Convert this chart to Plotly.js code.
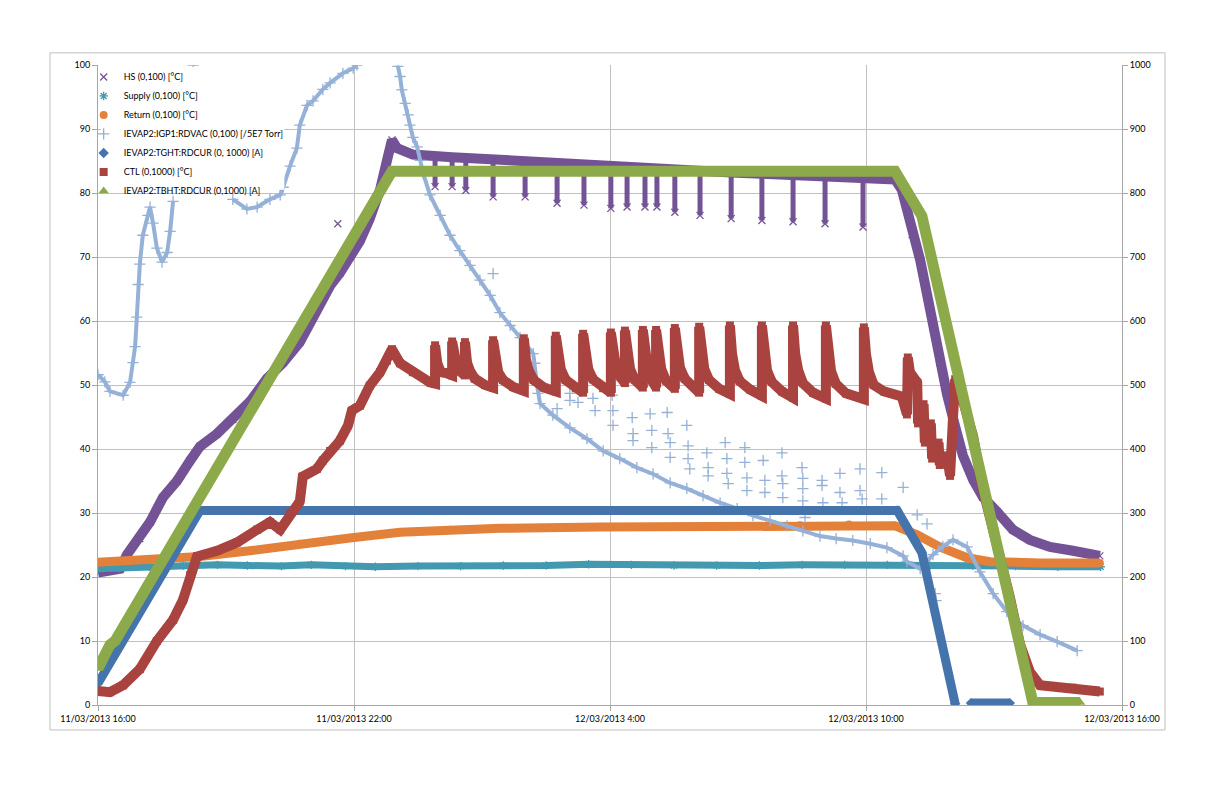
<!DOCTYPE html>
<html><head><meta charset="utf-8">
<script src="https://cdn.plot.ly/plotly-3.0.1.min.js"></script>
<style>html,body{margin:0;padding:0;background:#fff}#chart{width:1224px;height:792px}</style>
</head><body><div id="chart"></div>
<script>
// Time axis: hours since 11/03/2013 16:00
const xTickVals = [0, 6, 12, 18, 24];
const xTickText = ['11/03/2013 16:00', '11/03/2013 22:00', '12/03/2013 4:00', '12/03/2013 10:00', '12/03/2013 16:00'];

const seriesNames = [
  'HS (0,100) [°C]',
  'Supply (0,100) [°C]',
  'Return (0,100) [°C]',
  'IEVAP2:IGP1:RDVAC (0,100) [/5E7 Torr]',
  'IEVAP2:TGHT:RDCUR (0, 1000) [A]',
  'CTL (0,1000) [°C]',
  'IEVAP2:TBHT:RDCUR (0,1000) [A]'
];

// HS (left axis) main band
const hsT = [0, 0.28, 0.52, 0.68, 0.98, 1.22, 1.52, 1.85, 2.16, 2.39, 2.79, 3.16, 3.56, 3.96, 4.34, 4.73, 5.13, 5.44, 5.67, 5.90, 6.14, 6.37, 6.61, 6.77, 6.89, 7.01, 7.38,
  8.30, 9.26, 10.01, 10.76, 11.39, 12.02, 12.82, 13.52, 14.11, 14.84, 15.56, 16.29, 17.04, 17.93,
  18.68, 18.84, 18.96, 19.08, 19.27, 19.45, 19.57, 19.73, 19.90, 20.09, 20.27, 20.51, 20.74, 21.07, 21.44, 21.84, 22.31, 22.85, 23.48];
const hsV = [20.7, 21.0, 21.3, 23.5, 26.0, 28.6, 32.4, 35.0, 38.2, 40.4, 42.4, 44.6, 47.4, 51.0, 53.5, 56.7, 61.8, 65.5, 67.5, 70.0, 72.5, 76.0, 80.5, 85.0, 88.3, 87.0, 86.0,
  85.6, 85.2, 84.9, 84.6, 84.4, 84.1, 83.9, 83.6, 83.4, 83.2, 83.0, 82.8, 82.6, 82.3,
  82.1, 80.5, 77.5, 73.5, 69.5, 63.5, 59.0, 53.5, 48.5, 43.5, 39.0, 35.2, 32.5, 30.2, 27.4, 25.8, 24.7, 24.1, 23.3];
// HS short dips (top = band level, bottom = lowest reading)
const hsDipT   = [7.90, 8.30, 8.62, 9.26, 10.01, 10.76, 11.39, 12.02, 12.40, 12.82, 13.10, 13.52, 14.11, 14.84, 15.56, 16.29, 17.04, 17.93];
const hsDipTop = [86.3, 86.2, 86.1, 85.8, 85.5, 85.2, 85.0, 84.7, 84.6, 84.5, 84.4, 84.2, 84.0, 83.8, 83.6, 83.4, 83.2, 82.9];
const hsDipBot = [81.0, 81.0, 80.4, 79.4, 79.4, 78.4, 78.1, 77.6, 77.8, 77.8, 77.8, 77.0, 76.5, 76.0, 75.7, 75.5, 75.2, 74.7];
const hsOutT = [5.62];
const hsOutV = [75.2];

// Supply (left axis)
const supplyT = [0, 0.5, 1.2, 2.0, 2.8, 3.5, 4.3, 5.0, 5.8, 6.5, 7.5, 8.5, 9.5, 10.5, 11.5, 12.5, 13.5, 14.5, 15.5, 16.5, 17.5, 18.5, 19.5, 20.5, 21.5, 22.5, 23.5];
const supplyV = [21.3, 21.4, 21.6, 21.8, 21.9, 21.8, 21.7, 21.9, 21.7, 21.6, 21.7, 21.7, 21.8, 21.8, 22.0, 21.9, 21.8, 21.8, 21.8, 21.9, 21.9, 21.9, 21.8, 21.8, 21.7, 21.6, 21.6];

// Return (left axis)
const returnT = [0, 1.22, 2.39, 3.56, 4.73, 5.90, 7.08, 8.25, 9.42, 11.77, 14.11, 16.45, 17.6, 18.68, 19.20, 19.73, 20.37, 20.91, 22.08, 23.48];
const returnV = [22.3, 22.6, 23.2, 24.1, 25.2, 26.1, 27.0, 27.4, 27.6, 27.8, 27.9, 28.1, 28.2, 28.0, 26.6, 24.7, 23.0, 22.4, 22.2, 22.2];

// IEVAP2:IGP1:RDVAC (left axis) main trail, readings above 100 are off scale
const vacT = [0, 0.16, 0.28, 0.59, 0.75, 0.82, 0.87, 0.91, 0.94, 0.98, 1.05, 1.17, 1.22, 1.29, 1.38, 1.50, 1.62, 1.69, 1.76, null,
  3.16, 3.49, 3.73, 4.03, 4.27, 4.34, 4.50, 4.66, 4.73, 4.90, 5.04, 5.27, 5.44, 5.74, 5.98, 6.07, null,
  7.03, 7.08, 7.12, 7.20, 7.27, 7.31, 7.38, 7.48, 7.55, 7.62, 7.78, 8.02, 8.25, 8.48, 8.72, 8.95, 9.19, 9.42, 9.66, 9.89,
  10.20, 10.29, 10.36, 10.66, 11.06, 11.46, 11.84, 12.23, 12.63, 13.01, 13.41, 13.80, 14.18, 14.58, 14.98, 15.35, 15.75, 16.15,
  16.52, 16.92, 17.30, 17.69, 18.10, 18.49, 18.87, 18.96, 19.27, 19.57, 19.80, 20.04, 20.37, 20.67, 20.98, 21.30, 21.68, 22.08, 22.48, 22.95];
const vacV = [51.6, 50.5, 49.0, 48.4, 50.4, 53.5, 56.0, 60.6, 65.7, 68.9, 73.4, 76.5, 77.8, 75.3, 71.4, 69.2, 70.7, 74.0, 78.7, null,
  79.0, 77.5, 77.8, 79.0, 79.7, 80.9, 84.2, 87.0, 90.6, 93.7, 94.4, 96.2, 97.2, 98.7, 99.5, 100.0, null,
  99.8, 98.2, 96.1, 94.0, 92.2, 90.6, 88.7, 87.2, 85.1, 83.1, 79.7, 76.5, 73.4, 71.0, 68.7, 66.4, 64.0, 61.3, 59.3, 57.4,
  54.9, 50.0, 47.1, 45.3, 43.3, 41.6, 39.7, 38.5, 37.1, 36.1, 34.7, 33.8, 32.7, 31.6, 30.7, 29.6, 28.8, 28.0,
  27.2, 26.4, 26.0, 25.7, 25.2, 24.6, 23.3, 22.4, 21.3, 23.5, 24.8, 25.8, 24.7, 20.8, 17.4, 14.6, 12.4, 11.0, 9.9, 8.5];
// RDVAC isolated readings
const vacOutT = [2.23, 9.26, 10.24, 10.31, 10.76, 11.06, 11.06, 11.25, 11.60, 11.65, 12.05, 12.07, 12.07, 12.52, 12.54, 12.54, 12.94, 12.98, 12.98,
  13.34, 13.36, 13.41, 13.41, 13.80, 13.83, 13.83, 13.87, 14.27, 14.30, 14.30, 14.70, 14.74, 14.74, 14.77, 15.16, 15.16, 15.21, 15.21,
  15.59, 15.63, 15.63, 16.03, 16.03, 16.05, 16.05, 16.50, 16.52, 16.52, 16.52, 16.57, 16.97, 16.97, 16.99, 17.39, 17.39, 17.44,
  17.86, 17.86, 17.91, 18.37, 18.37, 18.87, 19.20, 19.43, 19.62, 19.64];
const vacOutV = [100.0, 67.4, 53.4, 48.7, 46.3, 48.7, 47.6, 47.3, 47.9, 46.0, 48.4, 46.0, 43.7, 44.9, 42.4, 41.3, 45.5, 42.9, 40.2,
  45.7, 42.4, 41.0, 38.7, 43.7, 40.5, 38.5, 36.9, 39.4, 37.1, 35.8, 41.0, 38.5, 36.2, 34.6, 40.2, 37.9, 35.5, 33.5,
  38.2, 35.1, 33.2, 39.4, 35.8, 34.6, 32.4, 37.1, 35.4, 33.8, 31.9, 29.3, 35.1, 34.3, 31.6, 36.2, 33.2, 31.6,
  36.9, 33.5, 32.2, 36.3, 32.2, 34.0, 29.7, 28.3, 17.4, 16.3];

// IEVAP2:TGHT:RDCUR (right axis)
const tghtT = [0, 2.39, 18.73, 19.31, 20.09, null, 20.46, 21.37];
const tghtV = [34, 304, 304, 238, 2, null, 3, 3];

// CTL (right axis)
const ctlT = [0, 0.28, 0.59, 0.98, 1.38, 1.76, 1.99, 2.16, 2.32, 2.79, 3.26, 3.73, 4.03, 4.27, 4.50, 4.73, 4.80, 5.13, 5.27, 5.44, 5.67, 5.86, 5.95, 6.14, 6.37, 6.61, 6.77, 6.89, 7.08, 7.38, 7.78, 7.90,
  7.90, 7.95, 8.02, 8.13, 8.30,
  8.30, 8.35, 8.42, 8.60,
  8.60, 8.65, 8.72, 8.83, 9.07, 9.26,
  9.26, 9.31, 9.38, 9.49, 9.73, 9.98,
  9.98, 10.03, 10.10, 10.21, 10.45, 10.73,
  10.73, 10.78, 10.85, 10.96, 11.20, 11.37,
  11.37, 11.42, 11.49, 11.60, 11.84, 12.02,
  12.02, 12.07, 12.14, 12.25, 12.35,
  12.35, 12.40, 12.47, 12.58, 12.77,
  12.77, 12.82, 12.89, 13.00, 13.08,
  13.08, 13.13, 13.20, 13.31, 13.52,
  13.52, 13.57, 13.64, 13.75, 13.99, 14.09,
  14.09, 14.14, 14.21, 14.32, 14.56, 14.81,
  14.81, 14.86, 14.93, 15.04, 15.28, 15.56,
  15.56, 15.61, 15.68, 15.79, 16.03, 16.29,
  16.29, 16.34, 16.41, 16.52, 16.76, 17.06,
  17.06, 17.11, 17.18, 17.29, 17.53, 17.95,
  17.95, 18.00, 18.07, 18.18, 18.42, 18.84, 18.96,
  18.98, 19.03, 19.20, 19.22, 19.35, 19.38, 19.52, 19.55, 19.70, 19.73, 19.90, 19.97,
  20.04, 20.09, 20.27, 20.51, 20.74, 21.07, 21.37, 21.61, 21.84, 22.08, 22.85, 23.48];
const ctlV = [22, 20, 31, 56, 100, 133, 164, 203, 232, 241, 254, 274, 286, 274, 299, 318, 357, 369, 382, 397, 413, 437, 460, 468, 499, 520, 538, 556, 534, 520, 504, 502,
  562, 535, 522, 518, 515,
  568, 540, 525, 515,
  567, 535, 522, 510, 500, 496,
  570, 535, 520, 508, 497, 491,
  573, 540, 522, 508, 496, 490,
  577, 543, 524, 508, 495, 488,
  580, 545, 525, 509, 495, 488,
  582, 550, 528, 512, 503,
  585, 550, 525, 508, 496,
  586, 550, 522, 505, 496,
  586, 550, 525, 507, 494,
  589, 550, 527, 510, 496, 488,
  591, 550, 525, 508, 494, 486,
  593, 549, 523, 506, 493, 483,
  593, 549, 523, 505, 490, 480,
  593, 549, 523, 503, 488, 479,
  593, 549, 522, 502, 487, 478,
  590, 548, 520, 500, 490, 482, 454,
  543, 520, 504, 440, 470, 410, 440, 385, 410, 375, 390, 358,
  450, 509, 476, 420, 337, 252, 169, 95, 52, 31, 27, 21];

// IEVAP2:TBHT:RDCUR (right axis)
const tbhtT = [0, 0.28, 0.40, 6.89, 18.68, 19.31, 21.91, 23.02];
const tbhtV = [57, 94, 100, 834, 834, 764, 4, 4];

const FONT = 'Lato, "Open Sans", sans-serif';
const C = {
  hs: '#735395', supply: '#4299B0', ret: '#E3813A', vac: '#95B1D7',
  tght: '#4574AC', ctl: '#A9433F', tbht: '#8DAA4B'
};

function band(x, y, color, width, yaxis) {
  return {type: 'scatter', mode: 'lines', x: x, y: y, yaxis: yaxis,
    line: {color: color, width: width}, connectgaps: false, showlegend: false, hoverinfo: 'skip'};
}
function marks(name, x, y, symbol, size, color, yaxis, open) {
  return {type: 'scatter', mode: 'markers', name: name, x: x, y: y, yaxis: yaxis,
    marker: {symbol: symbol, size: size, color: color, line: {color: color, width: open ? 1.3 : 0}},
    hoverinfo: 'skip'};
}

// dips as vertical segments
const dipX = [], dipY = [];
hsDipT.forEach(function (t, i) { dipX.push(t, t, null); dipY.push(hsDipTop[i], hsDipBot[i], null); });

const data = [
  band(hsT, hsV, C.hs, 10, 'y'),
  band(dipX, dipY, C.hs, 5, 'y'),
  marks(seriesNames[0], hsT.concat(hsDipT, hsOutT), hsV.concat(hsDipBot, hsOutV), 'x-thin-open', 7, C.hs, 'y', true),
  band(supplyT, supplyV, C.supply, 7, 'y'),
  marks(seriesNames[1], supplyT, supplyV, 'asterisk-open', 7, C.supply, 'y', true),
  band(returnT, returnV, C.ret, 9, 'y'),
  marks(seriesNames[2], returnT, returnV, 'circle', 8, C.ret, 'y', false),
  band(vacT, vacV, C.vac, 4, 'y'),
  marks(seriesNames[3], vacT.concat(vacOutT), vacV.concat(vacOutV), 'cross-thin-open', 8, C.vac, 'y', true),
  band(tghtT, tghtV, C.tght, 9, 'y2'),
  marks(seriesNames[4], tghtT, tghtV, 'diamond', 8, C.tght, 'y2', false),
  band(ctlT, ctlV, C.ctl, 10, 'y2'),
  marks(seriesNames[5], ctlT, ctlV, 'square', 8, C.ctl, 'y2', false),
  band(tbhtT, tbhtV, C.tbht, 11, 'y2'),
  marks(seriesNames[6], tbhtT, tbhtV, 'triangle-up', 9, C.tbht, 'y2', false)
];

const axisCommon = {
  showline: true, linecolor: '#a6a6a6', linewidth: 1,
  ticks: 'outside', ticklen: 5, tickcolor: '#a6a6a6',
  tickfont: {family: FONT, size: 9, color: '#000'},
  zeroline: false, fixedrange: true
};

const layout = {
  width: 1224, height: 792,
  margin: {l: 98, r: 102, t: 65, b: 87, pad: 0},
  paper_bgcolor: '#fff', plot_bgcolor: '#fff',
  font: {family: FONT, size: 9, color: '#000'},
  showlegend: true,
  legend: {x: -0.014, y: 1.004, xanchor: 'left', yanchor: 'top', bgcolor: 'rgba(0,0,0,0)',
    font: {family: FONT, size: 9, color: '#000'}, itemwidth: 30, tracegroupgap: 0},
  xaxis: Object.assign({}, axisCommon, {
    range: [0, 24], tickmode: 'array', tickvals: xTickVals, ticktext: xTickText,
    showgrid: true, gridcolor: '#c0c0c0', gridwidth: 1
  }),
  yaxis: Object.assign({}, axisCommon, {
    range: [0, 100], tick0: 0, dtick: 10, showgrid: true, gridcolor: '#c0c0c0', gridwidth: 1
  }),
  yaxis2: Object.assign({}, axisCommon, {
    range: [0, 1000], tick0: 0, dtick: 100, overlaying: 'y', side: 'right', showgrid: false
  }),
  shapes: [
    {type: 'rect', xref: 'paper', yref: 'paper', x0: -0.0469, x1: 1.042, y0: -0.039, y1: 1.019,
      line: {color: '#bfbfbf', width: 1}, fillcolor: 'rgba(0,0,0,0)', layer: 'below'},
    // white backing of the legend box
    {type: 'rect', xref: 'paper', yref: 'paper', x0: 0.003, x1: 0.182, y0: 0.805, y1: 0.997,
      line: {width: 0}, fillcolor: '#ffffff', layer: 'above'}
  ]
};

Plotly.newPlot('chart', data, layout, {displayModeBar: false, staticPlot: true});
</script>
</body></html>
